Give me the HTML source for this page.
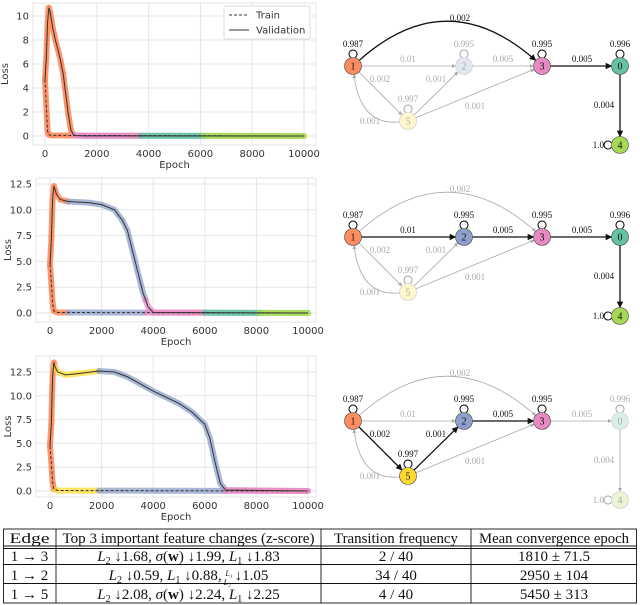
<!DOCTYPE html>
<html><head><meta charset="utf-8"><style>
body{margin:0;background:#fff}
#fig{display:block;font-family:"DejaVu Sans","Liberation Sans",sans-serif}
</style></head><body>
<svg id="fig" width="640" height="605" viewBox="0 0 640 605" xmlns="http://www.w3.org/2000/svg"></svg>
<script>
const NS="http://www.w3.org/2000/svg";
const fig=document.getElementById('fig');
function mk(tag,attrs,parent,text){const e=document.createElementNS(NS,tag);for(const k in attrs)e.setAttribute(k,attrs[k]);if(text!==undefined)e.textContent=text;(parent||fig).appendChild(e);return e;}

// ---------------- Chart data ----------------
const c1ValEpoch=[0,50,100,150,200,300,400,500,600,700,800,900,1000,1100,1200,1500,10000];
const c1ValLoss=[4.7,6.5,9.5,10.7,10.3,9.0,8.0,7.2,6.3,5.2,3.5,1.8,0.5,0.1,0.03,0.01,0];
const c1TrainEpoch=[0,50,100,150,250,10000];
const c1TrainLoss=[4.7,2.5,0.4,0.1,0.05,0];
const c1PhaseStart=[0,1100,3700,6100];
const c1PhaseEnd=[1100,3700,6100,10000];
const c1PhaseColor=["#fc8d62","#e78ac3","#66c2a5","#a6d854"];
const c1Yticks=[0,2,4,6,8,10];

const c2ValEpoch=[0,50,100,150,250,400,700,1500,2000,2500,2800,3000,3200,3400,3600,3800,4000,10000];
const c2ValLoss=[4.7,7,11,12.3,11.5,11.0,10.8,10.7,10.5,10.0,9.0,8.0,6.0,4.0,2.0,0.6,0.05,0];
const c2TrainEpoch=[0,50,100,150,300,10000];
const c2TrainLoss=[4.7,3.0,1.0,0.2,0.05,0];
const c2PhaseStart=[0,700,3700,6000,8100];
const c2PhaseEnd=[700,3700,6000,8100,10000];
const c2PhaseColor=["#fc8d62","#8da0cb","#e78ac3","#66c2a5","#a6d854"];
const c2Yticks=[0,2.5,5,7.5,10,12.5];

const c3ValEpoch=[0,50,100,150,200,300,600,1000,1900,2500,3000,4000,5000,5500,6000,6200,6400,6600,6800,10000];
const c3ValLoss=[4.7,7,12,13.5,13.0,12.5,12.2,12.3,12.6,12.5,12.0,10.5,9.2,8.3,7.0,5.5,3.0,0.8,0.1,0];
const c3TrainEpoch=[0,50,100,150,300,10000];
const c3TrainLoss=[4.7,3.0,1.0,0.2,0.05,0];
const c3PhaseStart=[0,200,1900,6800];
const c3PhaseEnd=[200,1900,6800,10000];
const c3PhaseColor=["#fc8d62","#ffd92f","#8da0cb","#e78ac3"];
const c3Yticks=[0,2.5,5,7.5,10,12.5];

const xTicks=[0,2000,4000,6000,8000,10000];

function interp(E,L,e){for(let i=0;i<E.length-1;i++){if(e>=E[i]&&e<=E[i+1]){const t=(e-E[i])/(E[i+1]-E[i]||1);return L[i]+t*(L[i+1]-L[i]);}}return L[L.length-1];}
function segPts(E,L,a,b){const pts=[[a,interp(E,L,a)]];E.forEach((e,i)=>{if(e>a&&e<b)pts.push([e,L[i]]);});pts.push([b,interp(E,L,b)]);return pts;}

function chart(name,box,xr,yr,yt,data){
  const g=mk('g',{});  
  const X=v=>xr[0]+(v/10000)*(xr[1]-xr[0]);
  const Y=v=>yr[0]-(v/yr[2])*(yr[0]-yr[1]);
  mk('rect',{x:box[0],y:box[1],width:box[2]-box[0],height:box[3]-box[1],fill:'#fff',stroke:'#e4e4e4'},g);
  xTicks.forEach(t=>{mk('line',{x1:X(t),x2:X(t),y1:box[1],y2:box[3],stroke:'#e6e6e6'},g);
    const tl=mk('text',{x:X(t),y:box[3]+12,'text-anchor':'middle','font-size':10,fill:'#333'},g,String(t));});
  yt.forEach(t=>{mk('line',{x1:box[0],x2:box[2],y1:Y(t),y2:Y(t),stroke:'#e6e6e6'},g);
    const tl=mk('text',{x:box[0]-4,y:Y(t)+3.5,'text-anchor':'end','font-size':10,fill:'#333'},g,Number.isInteger(t)&&yt[1]===2?String(t):t.toFixed(1));});
  const xl=mk('text',{x:(box[0]+box[2])/2,y:box[3]+23,'text-anchor':'middle','font-size':10,fill:'#333'},g,'Epoch');
  
  const yl=mk('text',{x:0,y:0,transform:`translate(${box[0]-25},${(box[1]+box[3])/2}) rotate(-90)`,'text-anchor':'middle','font-size':10,fill:'#333'},g,'Loss');
  
  [[data.vE,data.vL],[data.tE,data.tL]].forEach(([E,L])=>{
    data.ps.forEach((s,i)=>{
      const pts=segPts(E,L,s,data.pe[i]).map(p=>[X(p[0]),Y(p[1])]);
      const pl=mk('polyline',{points:pts.map(p=>p.join(',')).join(' '),fill:'none',stroke:data.pc[i],'stroke-width':6,'stroke-opacity':0.75,'stroke-linecap':'round','stroke-linejoin':'round'},g);
      
      if(i===0){
        for(let k=0;k<pts.length-1;k++){const [x1,y1]=pts[k],[x2,y2]=pts[k+1];const d=Math.hypot(x2-x1,y2-y1);const n=Math.max(1,Math.round(d/4.5));
          for(let j=0;j<n;j++){const c=mk('circle',{cx:x1+(x2-x1)*j/n,cy:y1+(y2-y1)*j/n,r:3,fill:data.pc[i],'fill-opacity':0.8},g);}}
      }
    });
  });
  const vp=mk('polyline',{points:data.vE.map((e,i)=>X(e)+','+Y(data.vL[i])).join(' '),fill:'none',stroke:'#333','stroke-width':1},g);
  
  const tp=mk('polyline',{points:data.tE.map((e,i)=>X(e)+','+Y(data.tL[i])).join(' '),fill:'none',stroke:'#333','stroke-width':1,'stroke-dasharray':'3,2'},g);
  
  return g;
}
chart('loss-chart-1',[33,3,316,145],[45,304],[136,16,10],c1Yticks,{vE:c1ValEpoch,vL:c1ValLoss,tE:c1TrainEpoch,tL:c1TrainLoss,ps:c1PhaseStart,pe:c1PhaseEnd,pc:c1PhaseColor});
chart('loss-chart-2',[36,178,316,322],[50,308],[313,184,12.5],c2Yticks,{vE:c2ValEpoch,vL:c2ValLoss,tE:c2TrainEpoch,tL:c2TrainLoss,ps:c2PhaseStart,pe:c2PhaseEnd,pc:c2PhaseColor});
chart('loss-chart-3',[36,356,316,497],[50,308],[491,372,12.5],c3Yticks,{vE:c3ValEpoch,vL:c3ValLoss,tE:c3TrainEpoch,tL:c3TrainLoss,ps:c3PhaseStart,pe:c3PhaseEnd,pc:c3PhaseColor});

const lg=mk('g',{});
mk('rect',{x:224,y:6,width:86,height:33,rx:2,fill:'#fff',stroke:'#ddd'},lg);
mk('line',{x1:229,x2:249,y1:15,y2:15,stroke:'#333','stroke-dasharray':'3,2'},lg);
mk('text',{x:256,y:18.5,'font-size':10,fill:'#333'},lg,'Train');
mk('line',{x1:229,x2:249,y1:30,y2:30,stroke:'#333'},lg);
mk('text',{x:256,y:33.5,'font-size':10,fill:'#333'},lg,'Validation');

// ---------------- Graphs ----------------
const nodeCol={"1":"#fc8d62","2":"#8da0cb","3":"#e78ac3","0":"#66c2a5","4":"#a6d854","5":"#ffd92f"};
function lighten(h,f){const n=parseInt(h.slice(1),16);let r=n>>16,g=(n>>8)&255,b=n&255;r=Math.round(r+(255-r)*f);g=Math.round(g+(255-g)*f);b=Math.round(b+(255-b)*f);return `rgb(${r},${g},${b})`;}
function graph(name,by,act){
  const G=mk('g',{});
  const defs=mk('defs',{},G);
  ['k','f'].forEach(k=>{const m=mk('marker',{id:name+k,viewBox:'0 0 10 10',refX:9,refY:5,markerWidth:5,markerHeight:5,orient:'auto'},defs);mk('path',{d:'M0,0L10,5L0,10z',fill:k==='k'?'#111':'#aaa'},m);});
  const P={"1":[353,by],"2":[464,by],"3":[542,by],"0":[620,by],"5":[408,by+55],"4":[620,by+79]};
  const R=8.5;
  const on=k=>act.includes(k);
  function edge(a,b,lab,lx,ly,ctrl){
    const A=P[a],B=P[b],a2=on(a+b);
    let d;
    if(ctrl){const ang1=Math.atan2(ctrl[1]-A[1],ctrl[0]-A[0]),ang2=Math.atan2(ctrl[1]-B[1],ctrl[0]-B[0]);
      d=`M${A[0]+R*Math.cos(ang1)},${A[1]+R*Math.sin(ang1)} Q${ctrl[0]},${ctrl[1]} ${B[0]+R*Math.cos(ang2)},${B[1]+R*Math.sin(ang2)}`;}
    else{const ang=Math.atan2(B[1]-A[1],B[0]-A[0]);d=`M${A[0]+R*Math.cos(ang)},${A[1]+R*Math.sin(ang)} L${B[0]-R*Math.cos(ang)},${B[1]-R*Math.sin(ang)}`;}
    const e=mk('path',{d,fill:'none',stroke:a2?'#111':'#aaa','stroke-width':a2?1.3:0.8,'marker-end':`url(#${name}${a2?'k':'f'})`},G);
    
    const t=mk('text',{x:lx,y:ly,'text-anchor':'middle','font-size':9,'font-family':'Liberation Serif, serif',fill:a2?'#111':'#aaa'},G,lab);
    
  }
  edge('1','3','0.002',460,by-45,[447,by-84]);
  edge('1','2','0.01',408,by-4);
  edge('2','3','0.005',503,by-4);
  edge('3','0','0.005',582,by-4);
  edge('1','5','0.002',380,by+16);
  edge('5','2','0.001',436,by+16);
  edge('5','3','0.001',475,by+43);
  edge('5','1','0.001',370,by+58,[360,by+60]);
  edge('0','4','0.004',604,by+42);
  Object.keys(P).forEach(k=>{
    const [x,y]=P[k],a=on(k);
    const col=a?'#111':'#aaa';
    if(k==='4'){mk('path',{d:`M${x-R},${y-2} a4,4 0 1 0 0,4`,fill:'none',stroke:col,'stroke-width':1},G);
      mk('text',{x:x-16,y:y+3,'text-anchor':'end','font-size':9,'font-family':'Liberation Serif, serif',fill:col},G,'1.0');}
    else{mk('path',{d:`M${x-2},${y-R} a4,4 0 1 1 4,0`,fill:'none',stroke:col,'stroke-width':1},G);
      const lab={"1":"0.987","2":"0.995","3":"0.995","0":"0.996","5":"0.997"}[k];
      mk('text',{x,y:y-19,'text-anchor':'middle','font-size':9,'font-family':'Liberation Serif, serif',fill:col},G,lab);}
    const c=mk('circle',{cx:x,cy:y,r:R,fill:a?nodeCol[k]:lighten(nodeCol[k],0.75),stroke:a?'#444':'#ccc','stroke-width':0.6},G);
    
    mk('text',{x,y:y+3.5,'text-anchor':'middle','font-size':10,'font-family':'Liberation Serif, serif',fill:a?'#111':'#aaa'},G,k);
  });
}
graph('state-graph-1',66,['1','3','0','4','13','30','04']);
graph('state-graph-2',237,['1','2','3','0','4','12','23','30','04']);
graph('state-graph-3',421,['1','5','2','3','15','52','23']);
</script>
<div style="position:absolute;left:0;top:0;width:640px;height:605px;pointer-events:none">
<svg width="640" height="605" style="position:absolute;left:0;top:0;font-family:'Liberation Serif',serif;font-size:15px" fill="#111">
 <g stroke="#111" stroke-width="0.9" fill="none">
  <rect x="3.5" y="529" width="633" height="74"/>
  <line x1="3.5" x2="636.5" y1="546" y2="546"/>
  <line x1="3.5" x2="636.5" y1="548.5" y2="548.5"/>
  <line x1="3.5" x2="636.5" y1="564.5" y2="564.5"/>
  <line x1="3.5" x2="636.5" y1="583.5" y2="583.5"/>
  <line x1="56" x2="56" y1="529" y2="603"/>
  <line x1="321" x2="321" y1="529" y2="603"/>
  <line x1="471" x2="471" y1="529" y2="603"/>
 </g>
 <g text-anchor="middle">
  <text x="29.5" y="543" textLength="40" lengthAdjust="spacingAndGlyphs">Edge</text>
  <text x="188.5" y="543" textLength="252" lengthAdjust="spacingAndGlyphs">Top 3 important feature changes (z-score)</text>
  <text x="396" y="543" textLength="124" lengthAdjust="spacingAndGlyphs">Transition frequency</text>
  <text x="554" y="543" textLength="150" lengthAdjust="spacingAndGlyphs">Mean convergence epoch</text>
  <text x="29.5" y="561">1 → 3</text>
  <text x="188.5" y="561"><tspan font-style="italic">L</tspan><tspan font-size="10" dy="3">2</tspan><tspan dy="-3"> ↓1.68, </tspan><tspan font-style="italic">σ</tspan>(<tspan font-weight="bold">w</tspan>) ↓1.99, <tspan font-style="italic">L</tspan><tspan font-size="10" dy="3">1</tspan><tspan dy="-3"> ↓1.83</tspan></text>
  <text x="396" y="561">2 / 40</text>
  <text x="554" y="561">1810 ± 71.5</text>
  <text x="29.5" y="580">1 → 2</text>
  <text x="188.5" y="580"><tspan font-style="italic">L</tspan><tspan font-size="10" dy="3">2</tspan><tspan dy="-3"> ↓0.59, </tspan><tspan font-style="italic">L</tspan><tspan font-size="10" dy="3">1</tspan><tspan dy="-3"> ↓0.88, </tspan><tspan font-size="8" font-style="italic" dy="-4">L₁</tspan><tspan font-size="8" font-style="italic" dx="-9" dy="9">L₂</tspan><tspan dy="-5"> ↓1.05</tspan></text>
  <text x="396" y="580">34 / 40</text>
  <text x="554" y="580">2950 ± 104</text>
  <text x="29.5" y="599">1 → 5</text>
  <text x="188.5" y="599"><tspan font-style="italic">L</tspan><tspan font-size="10" dy="3">2</tspan><tspan dy="-3"> ↓2.08, </tspan><tspan font-style="italic">σ</tspan>(<tspan font-weight="bold">w</tspan>) ↓2.24, <tspan font-style="italic">L</tspan><tspan font-size="10" dy="3">1</tspan><tspan dy="-3"> ↓2.25</tspan></text>
  <text x="396" y="599">4 / 40</text>
  <text x="554" y="599">5450 ± 313</text>
 </g>
</svg>
</div>
</body></html>
